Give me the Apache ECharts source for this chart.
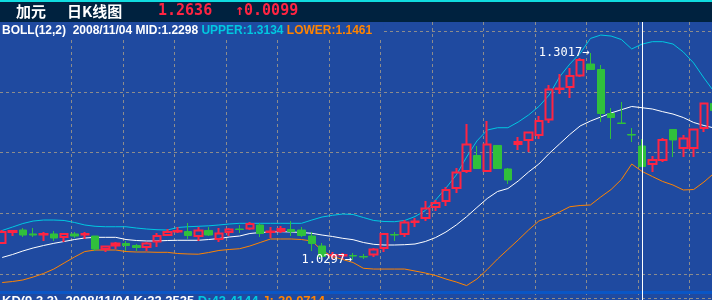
<!DOCTYPE html>
<html><head><meta charset="utf-8">
<script src="https://cdn.jsdelivr.net/npm/echarts@6/dist/echarts.min.js"></script>
<style>html,body{margin:0;padding:0;background:#1f4aa0;}#c{width:712px;height:300px;}</style>
</head><body><div id="c"></div>
<script>
// ---- data ----
const categories = [
'2008/08/08','2008/08/11','2008/08/12','2008/08/13','2008/08/14','2008/08/15','2008/08/18','2008/08/19','2008/08/20','2008/08/21',
'2008/08/22','2008/08/25','2008/08/26','2008/08/27','2008/08/28','2008/08/29','2008/09/01','2008/09/02','2008/09/03','2008/09/04',
'2008/09/05','2008/09/08','2008/09/09','2008/09/10','2008/09/11','2008/09/12','2008/09/15','2008/09/16','2008/09/17','2008/09/18',
'2008/09/19','2008/09/22','2008/09/23','2008/09/24','2008/09/25','2008/09/26','2008/09/29','2008/09/30','2008/10/01','2008/10/02',
'2008/10/03','2008/10/06','2008/10/07','2008/10/08','2008/10/09','2008/10/10','2008/10/13','2008/10/14','2008/10/15','2008/10/16',
'2008/10/17','2008/10/20','2008/10/21','2008/10/22','2008/10/23','2008/10/24','2008/10/27','2008/10/28','2008/10/29','2008/10/30',
'2008/10/31','2008/11/03','2008/11/04','2008/11/05','2008/11/06','2008/11/07','2008/11/10','2008/11/11','2008/11/12','2008/11/13'];
const opens = [
1.0520,1.0665,1.0691,1.0639,1.0632,1.0639,1.0599,1.0639,1.0632,1.0612,
1.0441,1.0487,1.0514,1.0487,1.0468,1.0540,1.0625,1.0671,1.0671,1.0612,
1.0685,1.0573,1.0665,1.0704,1.0711,1.0757,1.0665,1.0678,1.0698,1.0691,
1.0612,1.0481,1.0356,1.0356,1.0356,1.0343,1.0369,1.0455,1.0632,1.0639,
1.0796,1.0849,1.0993,1.1072,1.1243,1.1466,1.1670,1.1466,1.1802,1.1493,
1.1821,1.1874,1.1939,1.2143,1.2544,1.2570,1.2721,1.2872,1.2800,1.2222,
1.2097,1.1946,1.1795,1.1558,1.1611,1.2012,1.1769,1.1769,1.2031,1.2353];
const closes = [
1.0665,1.0678,1.0625,1.0625,1.0639,1.0586,1.0639,1.0612,1.0639,1.0441,
1.0474,1.0514,1.0487,1.0461,1.0514,1.0612,1.0665,1.0678,1.0619,1.0685,
1.0625,1.0645,1.0698,1.0698,1.0770,1.0645,1.0671,1.0704,1.0671,1.0619,
1.0514,1.0343,1.0363,1.0363,1.0349,1.0336,1.0435,1.0639,1.0625,1.0790,
1.0803,1.0974,1.1046,1.1217,1.1447,1.1815,1.1499,1.1815,1.1499,1.1348,
1.1847,1.1972,1.2123,1.2538,1.2550,1.2715,1.2925,1.2800,1.2222,1.2169,
1.2091,1.1939,1.1525,1.1611,1.1874,1.1874,1.1893,1.2012,1.2353,1.2261];
const lows = [
1.0507,1.0612,1.0599,1.0599,1.0547,1.0547,1.0533,1.0586,1.0573,1.0415,
1.0402,1.0441,1.0415,1.0415,1.0415,1.0468,1.0625,1.0652,1.0573,1.0547,
1.0612,1.0533,1.0612,1.0652,1.0691,1.0599,1.0586,1.0652,1.0612,1.0599,
1.0415,1.0323,1.0303,1.0303,1.0297,1.0310,1.0336,1.0402,1.0547,1.0599,
1.0730,1.0809,1.0941,1.1006,1.1177,1.1440,1.1499,1.1466,1.1499,1.1296,
1.1742,1.1716,1.1887,1.2097,1.2478,1.2426,1.2702,1.2800,1.2110,1.1887,
1.2091,1.1847,1.1519,1.1453,1.1585,1.1650,1.1650,1.1650,1.1979,1.2255];
const highs = [
1.0691,1.0691,1.0717,1.0717,1.0665,1.0678,1.0652,1.0665,1.0665,1.0612,
1.0481,1.0533,1.0547,1.0507,1.0533,1.0652,1.0704,1.0730,1.0783,1.0730,
1.0730,1.0717,1.0717,1.0757,1.0796,1.0783,1.0730,1.0744,1.0809,1.0730,
1.0665,1.0520,1.0402,1.0389,1.0389,1.0376,1.0455,1.0652,1.0665,1.0822,
1.0849,1.1072,1.1085,1.1256,1.1506,1.2084,1.1795,1.2123,1.1802,1.1506,
1.1913,1.1979,1.2189,1.2596,1.2741,1.2820,1.2951,1.3017,1.2859,1.2294,
1.2373,1.2031,1.1887,1.1664,1.1900,1.2012,1.1939,1.2018,1.2360,1.2353];
const bollMid = [
1.0330,1.0369,1.0415,1.0455,1.0487,1.0516,1.0540,1.0566,1.0586,1.0595,
1.0595,1.0595,1.0566,1.0553,1.0547,1.0547,1.0553,1.0556,1.0556,1.0556,
1.0566,1.0579,1.0599,1.0612,1.0645,1.0658,1.0665,1.0669,1.0665,1.0658,
1.0648,1.0625,1.0606,1.0582,1.0564,1.0527,1.0503,1.0494,1.0494,1.0498,
1.0507,1.0540,1.0592,1.0665,1.0757,1.0866,1.0987,1.1105,1.1197,1.1236,
1.1335,1.1453,1.1558,1.1696,1.1821,1.1946,1.2058,1.2123,1.2176,1.2229,
1.2272,1.2314,1.2298,1.2281,1.2246,1.2215,1.2169,1.2104,1.2064,1.2031];
const bollUpper = [
1.0685,1.0730,1.0776,1.0809,1.0822,1.0822,1.0816,1.0790,1.0757,1.0740,
1.0734,1.0734,1.0734,1.0717,1.0704,1.0695,1.0691,1.0724,1.0734,1.0740,
1.0746,1.0757,1.0770,1.0779,1.0779,1.0779,1.0779,1.0779,1.0779,1.0779,
1.0822,1.0862,1.0884,1.0901,1.0895,1.0855,1.0816,1.0803,1.0800,1.0816,
1.0868,1.0947,1.1085,1.1243,1.1414,1.1650,1.1861,1.2005,1.2035,1.2035,
1.2110,1.2202,1.2314,1.2465,1.2702,1.2872,1.3013,1.3208,1.3253,1.3240,
1.3194,1.3070,1.3134,1.3166,1.3166,1.3135,1.3030,1.2886,1.2688,1.2505];
const bollLower = [
1.0001,1.0014,1.0034,1.0073,1.0119,1.0178,1.0257,1.0336,1.0408,1.0428,
1.0428,1.0428,1.0408,1.0402,1.0402,1.0398,1.0398,1.0382,1.0376,1.0373,
1.0395,1.0422,1.0435,1.0445,1.0481,1.0527,1.0573,1.0573,1.0573,1.0566,
1.0547,1.0422,1.0343,1.0303,1.0264,1.0188,1.0178,1.0178,1.0178,1.0178,
1.0152,1.0126,1.0093,1.0047,1.0008,0.9961,1.0047,1.0172,1.0310,1.0435,
1.0560,1.0691,1.0809,1.0858,1.0928,1.0997,1.1013,1.1020,1.1125,1.1223,
1.1355,1.1558,1.1461,1.1394,1.1329,1.1282,1.1217,1.1223,1.1322,1.1440];
const crosshairDate = '2008/11/04';
const headerName = '加元';
const headerTitle = '日K线图';
const headerPrice = '1.2636';
const headerChange = '0.0099';
const bollLegend = {name:'BOLL(12,2)', date:'2008/11/04', mid:'1.2298', upper:'1.3134', lower:'1.1461'};
const kdLegend = {name:'KD(9,3,3)', date:'2008/11/04', k:'22.2525', d:'43.4144', j:'-20.0714'};

// ---- chart ----
const BG='#1f4aa0', RED='#ff2442', GREEN='#30c03c', CYAN='#00c8e0', ORANGE='#ff8400', GRIDC='#8c8c8c';
const chart = echarts.init(document.getElementById('c'), null, {renderer:'canvas', width:712, height:300});
const candleData = categories.map((d,i)=>{
  const up = closes[i] >= opens[i];
  return {value:[opens[i], closes[i], lows[i], highs[i]], itemStyle:{borderWidth: up ? 2 : 1}};
});
const dashed = {show:true, lineStyle:{color:GRIDC, type:[3,3], width:1}};
const hiddenParts = {axisLine:{show:false}, axisTick:{show:false}, axisLabel:{show:false}};
const lineSeries = (data, color) => ({type:'line', xAxisIndex:0, yAxisIndex:0, data, symbol:'none', smooth:false,
  lineStyle:{color, width:1}, silent:true, z:2});
const txt = (fs, ff, color, bold) => ({color, fontSize:fs, fontFamily:ff, fontWeight: bold?'bold':'normal', lineHeight:fs});
const option = {
  backgroundColor: BG,
  animation: false,
  grid: [
    {left:-2.96, top:22, width:722.4, height:278, outerBoundsMode:'none', containLabel:false},
    {left:0, width:712, top:31, height:243, outerBoundsMode:'none'},
    {left:71.3, width:618, top:22, height:278, outerBoundsMode:'none'},
    {left:0, width:712, top:298, height:100, outerBoundsMode:'none'}
  ],
  xAxis: [
    {gridIndex:0, type:'category', data:categories, boundaryGap:true, show:false},
    {gridIndex:1, type:'value', min:0, max:1, show:false},
    Object.assign({gridIndex:2, type:'value', min:0, max:12, interval:1, splitLine:dashed}, hiddenParts),
    {gridIndex:3, type:'value', min:0, max:1, show:false}
  ],
  yAxis: [
    {gridIndex:0, type:'value', min:0.97713, max:1.34244, show:false},
    Object.assign({gridIndex:1, type:'value', min:0, max:4, interval:1, splitLine:dashed}, hiddenParts),
    {gridIndex:2, type:'value', min:0, max:1, show:false},
    Object.assign({gridIndex:3, type:'value', min:0, max:1, interval:1, splitLine:dashed}, hiddenParts)
  ],
  graphic: [
    {type:'rect', shape:{x:0, y:0, width:712, height:22}, style:{fill:'#00223f'}, z:1},
    {type:'rect', shape:{x:0, y:0, width:712, height:2}, style:{fill:'#10dce0'}, z:1},
    {type:'rect', shape:{x:0, y:291, width:712, height:3}, style:{fill:'#0a56c6'}, z:1}
  ],
  title: [
    {text:headerName, left:16, top:4, padding:0, textStyle:txt(15,'Noto Sans CJK SC','#ffffff',true)},
    {text:headerTitle, left:67, top:4, padding:0, textStyle:txt(15,'Noto Sans CJK SC','#ffffff',true)},
    {text:headerPrice, left:158, top:4, padding:0, textStyle:txt(15,'DejaVu Sans Mono',RED,true)},
    {text:'↑'+headerChange, left:235, top:4, padding:0, textStyle:txt(15,'DejaVu Sans Mono',RED,true)},
    {text:'{w|'+bollLegend.name+'  '+bollLegend.date+' MID:'+bollLegend.mid+'} {c|UPPER:'+bollLegend.upper+'} {o|LOWER:'+bollLegend.lower+'}',
     left:0, top:22, padding:[2,11,2,2], backgroundColor:BG,
     textStyle:{fontSize:12, lineHeight:13, fontFamily:'Liberation Sans', color:'#fff',
       rich:{w:{color:'#ffffff',fontSize:12,fontFamily:'Liberation Sans',lineHeight:13},
             c:{color:CYAN,fontSize:12,fontFamily:'Liberation Sans',lineHeight:13},
             o:{color:ORANGE,fontSize:12,fontFamily:'Liberation Sans',lineHeight:13}}}},
    {text:'{w|'+kdLegend.name+'  '+kdLegend.date+' K:'+kdLegend.k+'} {c|D:'+kdLegend.d+'} {o|J:'+kdLegend.j+'}',
     left:0, top:294, padding:[0,6,0,2], backgroundColor:BG,
     textStyle:{fontSize:13, lineHeight:14, fontFamily:'Liberation Sans', color:'#fff',
       rich:{w:{color:'#ffffff',fontSize:13,fontFamily:'Liberation Sans',lineHeight:14},
             c:{color:CYAN,fontSize:13,fontFamily:'Liberation Sans',lineHeight:14},
             o:{color:ORANGE,fontSize:13,fontFamily:'Liberation Sans',lineHeight:14}}}}
  ],
  series: [
    lineSeries(bollUpper, CYAN),
    lineSeries(bollMid, '#ffffff'),
    lineSeries(bollLower, ORANGE),
    {type:'candlestick', xAxisIndex:0, yAxisIndex:0, data:candleData, barWidth:8, z:3, silent:true,
     itemStyle:{color:'rgba(0,0,0,0)', color0:GREEN, borderColor:RED, borderColor0:GREEN, borderWidth:1},
     markPoint:{symbol:'circle', symbolSize:0, silent:true,
       label:{show:true, position:'left', distance:1, color:'#ffffff', fontSize:12, fontFamily:'DejaVu Sans Mono',
         formatter: p => Number(p.value).toFixed(4) + '→'},
       data:[{type:'max', valueDim:'highest'}, {type:'min', valueDim:'lowest'}]},
     markLine:{symbol:['none','none'], silent:true, label:{show:false},
       lineStyle:{color:'#ffffff', type:'solid', width:1},
       data:[{xAxis: crosshairDate}]}
    }
  ]
};
chart.setOption(option);
</script>
</body></html>
